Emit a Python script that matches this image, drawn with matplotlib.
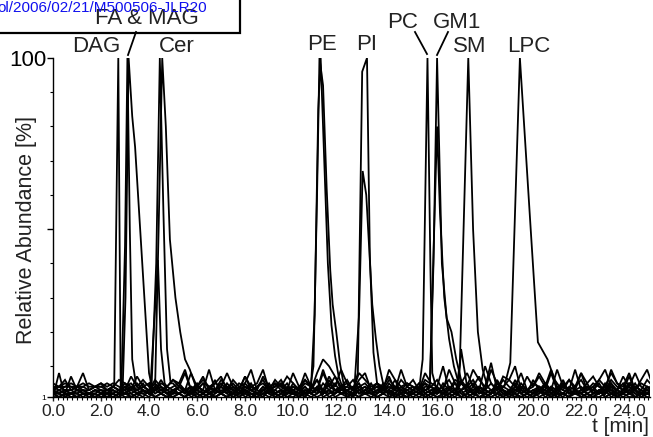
import matplotlib

matplotlib.use("Agg")
import matplotlib.pyplot as plt
import numpy as np
from matplotlib.lines import Line2D
from matplotlib.patches import Rectangle
from matplotlib.ticker import FixedLocator, MultipleLocator

plt.rcParams["font.family"] = ["Liberation Sans", "DejaVu Sans"]

W, H = 653, 437

# baseline sampling grid (minutes) for the noise
BASE_T = np.arange(101) * 0.25

# baseline noise per trace (relative abundance, %)
BASE = {
    "DAG": [5,4,4,5,4,4,5,4,4,5, 4,3,3,4,3,2,3,4,3,2, 3,2,3,4,2,3,2,3,5,3, 2,3,2,4,3,2,3,3,2,4,
            3,2,3,2,4,3,2,3,2,3, 4,2,3,2,3,4,2,3,3,2, 3,4,2,3,2,5,3,2,3,4, 2,3,2,3,4,2,3,5,2,3,
            2,4,3,2,3,2,4,3,2,3, 4,2,3,5,2,3,2,4,3,2, 3],
    "FA": [2,3,2,7,3,2,2,3,2,3, 3,2,3,2,4,3,2,3,6,3, 2,4,3,2,3,5,2,3,2,4, 3,2,4,3,2,3,2,5,3,2,
           4,3,2,3,6,2,3,2,4,3, 2,3,4,2,3,2,5,3,2,4, 3,2,3,4,2,3,2,3,6,2, 3,4,2,3,2,4,3,2,5,3,
           2,3,4,2,3,6,2,3,2,4, 3,2,5,3,2,3,4,2,3,2, 4],
    "MAG": [1,8,1,2,1,2,2,1,2,1, 2,1,2,3,1,2,1,2,3,2, 1,2,1,3,2,1,2,1,2,3, 1,2,3,1,2,1,3,2,1,2,
            3,1,2,1,2,3,1,2,4,1, 2,1,3,2,1,2,3,1,2,1, 3,2,1,2,4,1,2,3,1,2, 1,3,2,1,2,1,3,2,1,2,
            3,1,2,4,1,2,1,3,2,1, 2,3,1,2,1,3,2,1,2,3, 2],
    "Cer1": [3,2,3,3,2,3,2,3,3,2, 4,3,2,3,5,3,2,4,3,2, 5,3,2,4,3,2,3,6,2,3, 2,4,3,5,2,3,4,2,3,2,
             5,3,2,4,3,2,6,3,2,3, 4,2,3,5,2,3,2,4,3,2, 3,5,2,3,4,2,3,2,5,3, 2,4,3,2,6,3,2,3,4,2,
             3,2,5,3,2,4,3,2,3,5, 2,3,4,2,3,2,5,3,2,4, 3],
    "Cer2": [2,2,1,2,2,1,2,2,1,2, 2,3,2,1,2,3,2,4,2,1, 2,3,1,2,3,2,1,2,4,2, 1,2,3,2,1,3,2,1,2,3,
             2,1,3,2,4,1,2,3,2,1, 2,3,2,1,2,4,2,1,3,2, 1,2,3,2,1,2,3,5,2,1, 2,3,1,2,4,2,1,3,2,1,
             2,4,2,1,3,2,1,2,3,2, 1,3,2,4,1,2,3,2,1,2, 2],
    "Cer3": [3,4,6,3,4,8,3,4,5,3, 4,6,5,3,7,4,5,8,3,4, 6,5,9,3,4,7,3,5,4,8, 4,3,7,4,5,9,3,6,4,7,
             5,3,8,4,6,3,7,4,9,5, 3,6,8,3,5,4,7,3,9,4, 6,3,8,5,4,10,3,6,5,8, 4,7,3,9,5,4,6,10,3,7,
             4,8,5,3,9,4,6,3,8,5, 7,4,3,9,5,4,8,3,6,9, 4],
    "PE1": [2,1,2,1,1,2,1,2,1,1, 2,1,2,2,1,3,2,1,2,1, 3,2,1,2,1,2,3,1,2,1, 2,1,3,2,1,2,1,2,3,1,
            2,3,1,2,1,2,1,3,2,1, 2,1,2,3,1,2,1,2,1,3, 2,1,2,1,3,2,1,2,1,2, 3,1,2,1,2,3,1,2,1,2,
            1,3,2,1,2,1,3,2,1,2, 1,2,3,1,2,1,2,3,1,2, 1],
    "PE2": [4,3,4,4,3,4,3,4,4,3, 4,3,5,4,3,4,3,5,3,4, 3,4,3,8,4,3,9,3,4,3, 5,3,7,3,4,5,3,4,6,3,
            4,3,5,4,3,4,3,5,3,4, 6,3,4,3,5,3,4,3,6,4, 3,5,3,4,3,4,6,3,5,4, 3,4,3,5,3,6,4,3,4,3,
            5,4,3,8,3,4,3,9,3,4, 3,6,4,8,5,3,7,3,5,4, 3],
    "PI1": [2,2,3,2,2,3,2,2,3,2, 3,2,4,3,2,3,2,3,4,2, 3,2,3,2,4,3,2,3,2,5, 3,2,4,3,2,3,5,2,3,2,
            3,4,2,3,2,5,3,2,3,4, 2,3,2,5,3,2,3,2,4,3, 2,3,5,2,3,2,4,3,2,3, 5,2,3,2,4,3,2,6,3,2,
            3,4,2,3,2,5,3,2,3,4, 2,3,2,5,3,2,4,3,2,3, 2],
    "PI2": [1,1,2,1,1,2,1,1,2,1, 1,2,1,1,2,1,3,1,2,1, 1,2,1,3,1,2,1,1,2,1, 3,1,2,1,1,2,3,1,2,1,
            1,2,1,3,8,12,10,7,3,3, 1,2,1,1,3,2,1,2,1,1, 2,3,1,2,1,1,2,1,3,1, 2,1,1,2,3,1,2,1,1,2,
            1,3,1,2,1,2,1,3,1,2, 1,1,2,3,1,2,1,1,2,1, 1],
    "PC": [3,2,3,2,3,3,2,3,2,3, 2,3,4,2,3,5,2,3,4,2, 3,4,2,3,5,2,4,3,2,3, 4,2,5,3,2,4,3,2,3,5,
           2,3,4,2,3,2,5,3,4,2, 3,5,2,3,4,2,3,6,2,3, 4,2,3,5,2,3,4,2,3,5, 2,4,3,2,5,3,2,4,3,2,
           6,3,2,4,3,5,2,3,4,2, 3,5,2,4,3,2,3,5,2,4, 3],
    "GM1": [2,3,2,2,3,2,2,3,2,2, 3,2,2,4,2,3,2,4,2,3, 2,4,3,2,3,2,4,2,3,2, 4,3,2,3,2,4,2,3,5,2,
            3,2,4,2,3,2,3,5,2,3, 2,4,2,3,2,5,3,2,4,2, 3,2,4,3,2,3,5,2,3,2, 4,2,3,2,5,3,2,4,2,3,
            2,3,5,2,4,3,2,3,2,4, 3,2,4,2,3,5,2,3,2,4, 2],
    "GM1b": [4,4,5,4,4,5,4,4,5,4, 5,4,3,7,4,6,4,3,5,4, 6,4,8,3,4,6,4,5,7,3, 6,4,5,9,3,7,4,5,4,3,
             8,4,6,4,3,9,4,7,4,5, 3,8,6,4,5,3,9,6,4,5, 4,3,6,12,4,8,7,4,15,4, 9,6,4,11,3,7,6,4,8,3,
             4,7,4,9,4,3,6,4,8,3, 4,6,9,4,3,7,4,8,4,3, 5],
    "SM": [2,1,2,2,1,2,2,1,2,2, 1,2,3,1,2,2,1,3,2,1, 2,2,3,1,2,1,2,3,2,1, 2,3,1,2,2,1,3,2,1,2,
           2,1,3,2,1,2,3,1,2,2, 1,3,2,2,1,2,3,1,2,1, 2,3,1,2,2,3,1,2,1,3, 2,1,2,3,1,2,2,1,3,2,
           1,2,3,1,2,2,1,3,2,1, 2,3,1,2,1,2,3,1,2,2, 1],
    "LPC": [3,4,3,3,4,3,3,4,3,3, 4,3,4,5,3,4,3,6,4,3, 4,5,3,4,3,5,4,3,6,4, 3,5,4,3,4,6,3,4,5,3,
            4,3,6,4,3,8,4,3,4,6, 3,4,5,3,4,3,6,4,3,5, 4,3,5,4,6,3,9,5,3,4, 6,3,10,5,3,4,3,6,4,5,
            3,4,6,3,5,4,3,4,6,3, 5,4,3,6,4,3,5,4,3,6, 4],
}

# peak points per trace: (time [min], relative abundance [%])
PEAKS = {
    "DAG": [(2.55, 4), (2.72, 100), (2.82, 4), (2.95, 3)],
    "FA": [(2.85, 4), (3.0, 45), (3.1, 100), (3.2, 50), (3.3, 12), (3.45, 5)],
    "MAG": [(2.9, 3), (3.02, 30), (3.15, 100), (3.3, 83), (3.42, 74), (4.0, 8), (4.15, 3)],
    "Cer1": [(4.1, 3), (4.3, 40), (4.45, 100), (4.6, 55), (4.75, 15), (4.9, 5)],
    "Cer2": [(4.25, 3), (4.4, 50), (4.55, 100), (4.7, 80), (4.87, 47), (5.1, 30),
             (5.3, 20), (5.5, 12), (5.7, 9), (5.9, 5)],
    "Cer3": [(4.05, 3), (4.37, 41), (4.5, 15), (4.65, 5)],
    "PE1": [(10.7, 3), (10.85, 10), (11.0, 60), (11.1, 100), (11.25, 92), (11.4, 62),
            (11.55, 38), (11.65, 28), (11.8, 20), (11.95, 11), (12.1, 5)],
    "PE2": [(10.75, 4), (10.9, 25), (11.05, 85), (11.15, 100), (11.3, 70), (11.45, 40),
            (11.6, 22), (11.75, 13), (11.9, 7), (12.05, 4)],
    "PI1": [(12.5, 3), (12.7, 8), (12.88, 96), (13.08, 100), (13.2, 42), (13.35, 14), (13.5, 5)],
    "PI2": [(12.55, 3), (12.75, 25), (12.9, 67), (13.05, 60), (13.3, 28), (13.45, 18),
            (13.6, 10), (13.75, 5)],
    "PC": [(15.25, 3), (15.4, 12), (15.6, 100), (15.72, 40), (15.8, 8), (15.95, 4)],
    "GM1": [(15.7, 4), (15.85, 40), (16.0, 100), (16.1, 70), (16.2, 40), (16.4, 24),
            (16.6, 20), (16.8, 12), (17.0, 6), (17.2, 4)],
    "GM1b": [(15.7, 5), (15.88, 50), (16.0, 80), (16.12, 55), (16.3, 30), (16.5, 18),
             (16.7, 10), (16.9, 5)],
    "SM": [(16.8, 3), (16.95, 11), (17.3, 100), (17.5, 50), (17.7, 20), (17.9, 9), (18.1, 4)],
    "LPC": [(18.8, 4), (19.05, 11), (19.45, 100), (19.9, 50), (20.2, 17), (20.6, 12),
            (20.9, 6), (21.1, 4)],
}

X_TICKS = np.arange(0, 25, 2.0)
X_TICK_LABELS = [f"{v:.1f}" for v in X_TICKS]

# (label, x px, y px) of the peak annotations
LABELS = [
    ("FA & MAG", 147, 19), ("DAG", 96, 46), ("Cer", 177, 46), ("PE", 322, 45),
    ("PI", 367, 44), ("PC", 403, 22), ("GM1", 457, 22), ("SM", 470, 46), ("LPC", 529, 46),
]
LEADERS = [((136, 32), (128, 55)), ((415, 32), (427, 54)), ((448, 32), (437, 55))]


def trace(name):
    pk_t = np.array([p[0] for p in PEAKS[name]])
    pk_v = np.array([p[1] for p in PEAKS[name]])
    base_v = np.array(BASE[name], dtype=float)
    keep = (BASE_T < pk_t[0]) | (BASE_T > pk_t[-1])
    t = np.concatenate([BASE_T[keep], pk_t])
    v = np.concatenate([base_v[keep], pk_v])
    order = np.argsort(t)
    return t[order], v[order]


def fig_xy(x, y):
    return x / W, 1 - y / H


fig = plt.figure(figsize=(W / 100, H / 100), dpi=100)
ax = fig.add_axes([53 / W, 1 - 397 / H, (650 - 53) / W, (397 - 58) / H])

for name in BASE:
    t, v = trace(name)
    ax.plot(t, v, color="black", lw=1.3, solid_joinstyle="miter")

ax.set_xlim(0, 24.87)
ax.set_ylim(1, 100)
for side in ("top", "right"):
    ax.spines[side].set_visible(False)
for side in ("left", "bottom"):
    ax.spines[side].set_linewidth(1.0)

ax.set_xticks(X_TICKS, X_TICK_LABELS, fontsize=12.5)
ax.xaxis.set_minor_locator(MultipleLocator(0.2))
ax.tick_params(axis="x", which="major", length=3, width=1, pad=2, colors="#222222")
ax.tick_params(axis="x", which="minor", length=2, width=0.8)

ax.set_yticks([1, 50, 100], ["1", "", "100"])
ax.yaxis.set_minor_locator(FixedLocator([10, 20, 30, 40, 60, 70, 80, 90]))
ax.tick_params(axis="y", which="major", length=4, width=1, pad=1, labelsize=16)
ax.tick_params(axis="y", which="minor", length=2.5, width=0.8)
ax.get_yticklabels()[0].set_fontsize(6)

fig.text(*fig_xy(27, 230), "Relative Abundance [%]", rotation=90, fontsize=15.5,
         ha="center", va="center", color="#222222")
fig.text(*fig_xy(649, 427), "t [min]", fontsize=15, ha="right", va="center", color="#222222")

for text, x, y in LABELS:
    fig.text(*fig_xy(x, y), text, fontsize=16, ha="center", va="center", color="#222222")
for (x0, y0), (x1, y1) in LEADERS:
    a, b = fig_xy(x0, y0)
    c, d = fig_xy(x1, y1)
    fig.add_artist(Line2D([a, c], [b, d], color="black", lw=1.3, transform=fig.transFigure))

# web-page overlay box with the cropped link text
fig.add_artist(Rectangle(fig_xy(-5, 33), 245 / W, 40 / H, transform=fig.transFigure,
                         fill=False, edgecolor="black", lw=1.6))
fig.text(*fig_xy(-3, 8), "ol/2006/02/21/M500506-JLR20", fontsize=11, color="#1010ee",
         ha="left", va="center")

fig.savefig("out.png", dpi=100)
